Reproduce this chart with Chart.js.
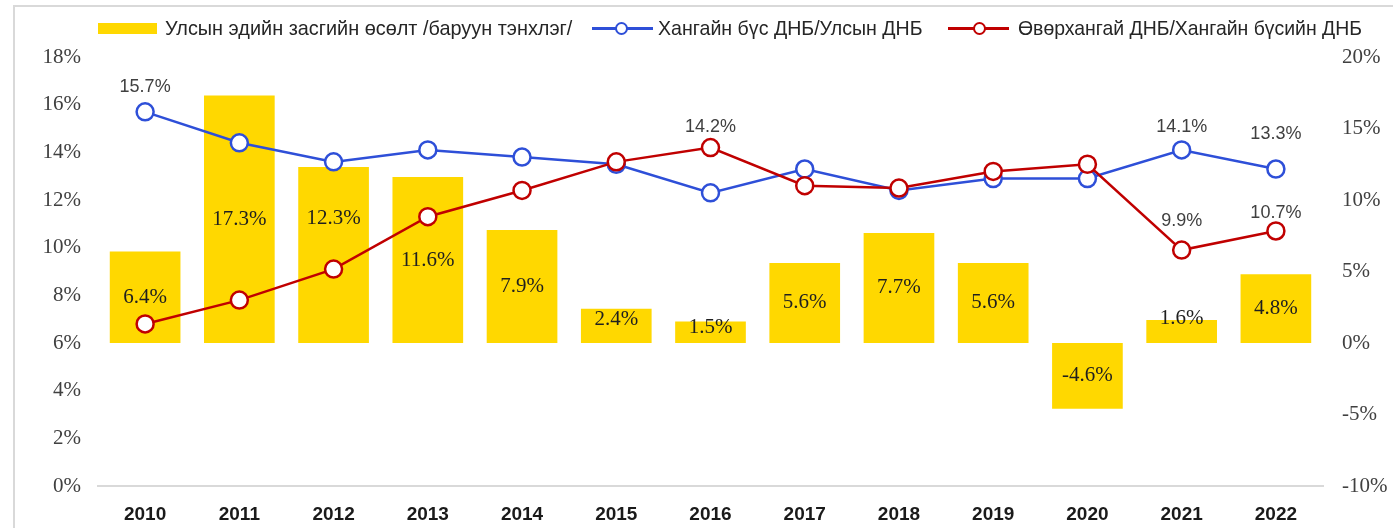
<!DOCTYPE html>
<html>
<head>
<meta charset="utf-8">
<script src="https://cdn.jsdelivr.net/npm/chart.js@4/dist/chart.umd.min.js"></script>
<style>
  html, body { margin: 0; padding: 0; background: #fff; }
  #wrap { position: relative; width: 1393px; height: 528px; overflow: hidden; }
  #frame { position: absolute; left: 13px; top: 5px; right: -10px; bottom: -10px; border-left: 2px solid #d9d9d9; border-top: 2px solid #d9d9d9; }
  #chart { position: absolute; left: 0; top: 0; }
  .sw { position: absolute; left: 98px; top: 23px; width: 59px; height: 11px; background: #FFD800; }
  .ln { position: absolute; top: 27px; width: 61px; height: 2.5px; }
  .dot { position: absolute; top: 22px; width: 9px; height: 9px; border-radius: 50%; background: #fff; border-width: 2.5px; border-style: solid; }
  .txt { position: absolute; top: 16px; line-height: 24px; font-family: "Liberation Sans", Arial, sans-serif;
         font-size: 21px; color: #262626; white-space: nowrap; transform-origin: left center; }
</style>
</head>
<body>
<div id="wrap">
  <div id="frame"></div>
  <canvas id="chart" width="1393" height="528"></canvas>
  <div class="sw"></div>
  <div class="txt" data-fit="407" style="left:165px">Улсын эдийн засгийн өсөлт /баруун тэнхлэг/</div>
  <div class="ln" style="left:592px; background:#2E4FD8"></div>
  <div class="dot" style="left:615px; border-color:#2E4FD8"></div>
  <div class="txt" data-fit="265" style="left:658px">Хангайн бүс ДНБ/Улсын ДНБ</div>
  <div class="ln" style="left:948px; background:#C00000"></div>
  <div class="dot" style="left:973px; border-color:#C00000"></div>
  <div class="txt" data-fit="344" style="left:1018px">Өвөрхангай ДНБ/Хангайн бүсийн ДНБ</div>
</div>
<script>
const years = ["2010", "2011", "2012", "2013", "2014", "2015", "2016", "2017", "2018", "2019", "2020", "2021", "2022"];

// economic growth, right axis
const growth = [6.4, 17.3, 12.3, 11.6, 7.9, 2.4, 1.5, 5.6, 7.7, 5.6, -4.6, 1.6, 4.8];

// Khangai region GDP / national GDP, left axis
const khangaiShare = [15.7, 14.4, 13.6, 14.1, 13.8, 13.5, 12.3, 13.3, 12.4, 12.9, 12.9, 14.1, 13.3];

// Uvurkhangai GDP / Khangai region GDP, left axis
const uvurShare = [6.8, 7.8, 9.1, 11.3, 12.4, 13.6, 14.2, 12.6, 12.5, 13.2, 13.5, 9.9, 10.7];

// which line points carry a value label
const khangaiLabelled = [0, 11, 12];
const uvurLabelled = [6, 11, 12];

const leftTicks = [0, 2, 4, 6, 8, 10, 12, 14, 16, 18];
const rightTicks = [-10, -5, 0, 5, 10, 15, 20];

const serif = "'Liberation Serif', 'Times New Roman', serif";
const sans = "'Liberation Sans', Arial, sans-serif";

// squeeze legend text to the narrow look of the original
document.querySelectorAll(".txt").forEach(el => {
    const target = +el.dataset.fit;
    el.style.transform = "scaleX(" + (target / el.scrollWidth) + ")";
});

const valueLabels = {
    id: "valueLabels",
    afterDatasetsDraw(chart, args, opts) {
        const ctx = chart.ctx;
        ctx.save();
        ctx.textAlign = "center";
        ctx.textBaseline = "middle";

        // bar labels, centred in the bar (a few were dragged up in the original)
        const bars = chart.getDatasetMeta(2).data;
        ctx.font = "21px " + serif;
        ctx.fillStyle = "#1f1f1f";
        bars.forEach((bar, i) => {
            const nudge = opts.barNudge[i] || 0;
            ctx.fillText(growth[i].toFixed(1) + "%", bar.x, (bar.y + bar.base) / 2 + nudge);
        });

        // line labels, above the point
        ctx.font = "18px " + sans;
        ctx.fillStyle = "#404040";
        const lines = [[0, khangaiShare, khangaiLabelled], [1, uvurShare, uvurLabelled]];
        lines.forEach(([idx, values, picks]) => {
            const pts = chart.getDatasetMeta(idx).data;
            const lift = opts.lineLift[idx];
            picks.forEach(i => {
                ctx.fillText(values[i].toFixed(1) + "%", pts[i].x, pts[i].y - (lift[i] || 24));
            });
        });
        ctx.restore();
    }
};

const ctx = document.getElementById("chart").getContext("2d");

new Chart(ctx, {
    type: "bar",
    data: {
        labels: years,
        datasets: [
            {
                type: "line",
                label: "Хангайн бүс ДНБ/Улсын ДНБ",
                data: khangaiShare,
                yAxisID: "y",
                borderColor: "#2E4FD8",
                borderWidth: 2.5,
                pointRadius: 8.5,
                pointBorderWidth: 2.5,
                pointBackgroundColor: "#ffffff",
                pointBorderColor: "#2E4FD8",
                tension: 0,
                order: 1
            },
            {
                type: "line",
                label: "Өвөрхангай ДНБ/Хангайн бүсийн ДНБ",
                data: uvurShare,
                yAxisID: "y",
                borderColor: "#C00000",
                borderWidth: 2.5,
                pointRadius: 8.5,
                pointBorderWidth: 2.5,
                pointBackgroundColor: "#ffffff",
                pointBorderColor: "#C00000",
                tension: 0,
                order: 0
            },
            {
                type: "bar",
                label: "Улсын эдийн засгийн өсөлт /баруун тэнхлэг/",
                data: growth,
                yAxisID: "y1",
                backgroundColor: "#FFD800",
                categoryPercentage: 1,
                barPercentage: 0.75,
                order: 2
            }
        ]
    },
    options: {
        responsive: false,
        animation: false,
        layout: {
            padding: { top: 57, left: 0, right: 0, bottom: 0 }
        },
        plugins: {
            legend: { display: false },
            tooltip: { enabled: false },
            valueLabels: {
                barNudge: { 2: -37, 5: -6, 6: -5, 11: -13 },
                lineLift: [{ 0: 25, 11: 23, 12: 35 }, { 6: 21, 11: 29, 12: 18 }]
            }
        },
        scales: {
            x: {
                grid: { display: false, drawTicks: false },
                border: { display: true, color: "#d9d9d9", width: 2 },
                ticks: {
                    padding: 17,
                    color: "#1a1a1a",
                    font: { family: sans, size: 19, weight: "bold" }
                },
                afterFit(scale) { scale.height = 42; }
            },
            y: {
                position: "left",
                min: 0,
                max: 18,
                afterBuildTicks(scale) { scale.ticks = leftTicks.map(v => ({ value: v })); },
                grid: { display: false, drawTicks: false },
                border: { display: false },
                ticks: {
                    padding: 17,
                    color: "#404040",
                    font: { family: serif, size: 21 },
                    callback: v => v + "%"
                },
                afterFit(scale) { scale.width = 98; }
            },
            y1: {
                position: "right",
                min: -10,
                max: 20,
                afterBuildTicks(scale) { scale.ticks = rightTicks.map(v => ({ value: v })); },
                grid: { display: false, drawTicks: false },
                border: { display: false },
                ticks: {
                    padding: 19,
                    color: "#404040",
                    font: { family: serif, size: 21 },
                    callback: v => v + "%"
                },
                afterFit(scale) { scale.width = 70; }
            }
        }
    },
    plugins: [valueLabels]
});
</script>
</body>
</html>
